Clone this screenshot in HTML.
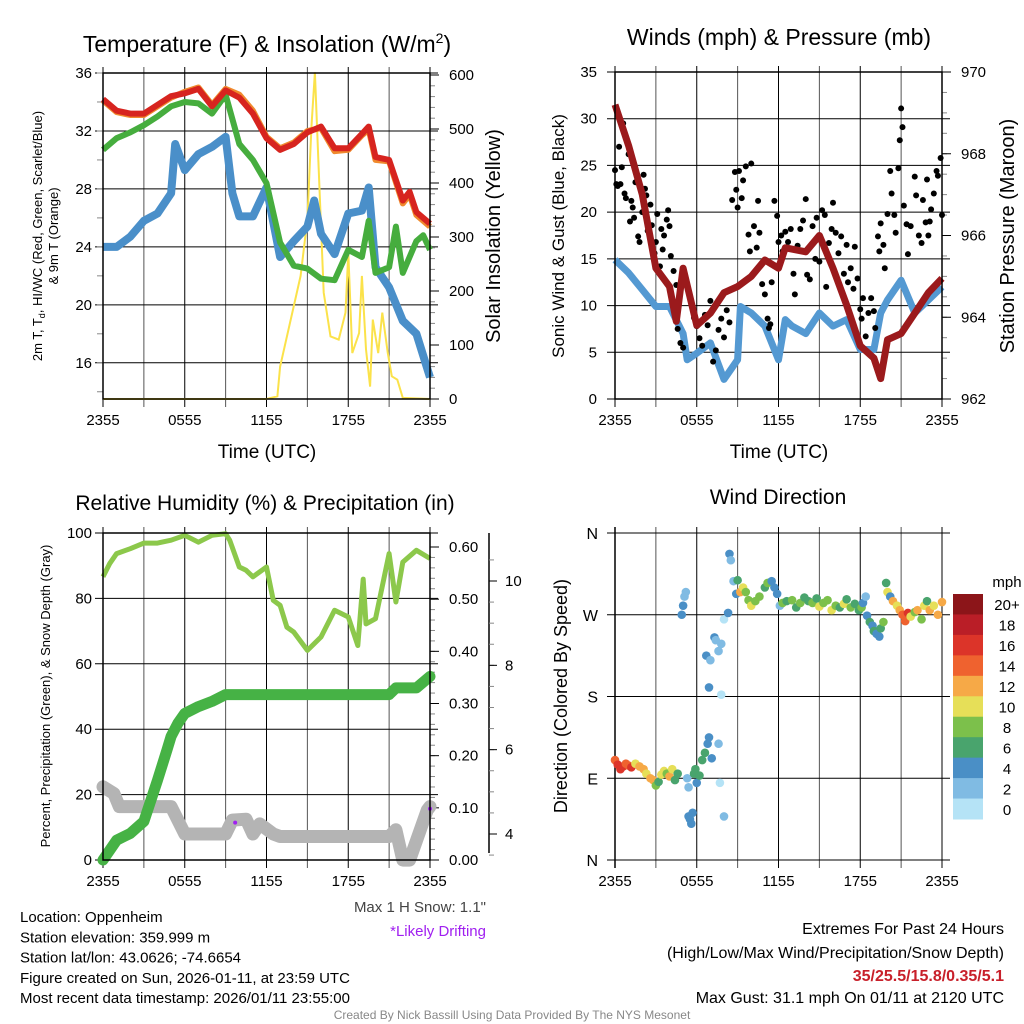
<!DOCTYPE html>
<html><head><meta charset="utf-8">
<style>
html,body{margin:0;padding:0;background:#fff;}
svg{display:block;font-family:"Liberation Sans",Arial,sans-serif;}
</style></head>
<body>
<svg id="chart" width="1024" height="1024" viewBox="0 0 1024 1024" xmlns="http://www.w3.org/2000/svg"></svg>
<script>
// ---------- DATA ----------
const timeTicks = ["2355","0555","1155","1755","2355"];
// Temperature panel
const tempHours = [0,1,2,3,4,5,6,7,8,9,10,11,12,13,14,15,16,17,18,19,19.5,20,21,22,22.5,23,24];
const temp2m   = [34.2,33.4,33.2,33.2,33.8,34.4,34.6,34.9,33.7,34.8,34.3,33.2,31.5,30.7,31.1,31.9,32.3,30.8,30.8,31.8,32.3,30.2,30.0,27.2,27.8,26.4,25.6];
const temp9m   = [34.1,33.3,33.1,33.1,33.7,34.3,34.7,35.0,33.8,34.9,34.5,33.4,31.6,30.8,31.2,32.0,32.2,30.6,30.7,31.7,32.1,30.0,29.9,27.0,27.6,26.2,25.4];
const dewHours = [0,1,2,3,4,5,6,7,8,9,10,11,12,13,14,15,16,17,18,19,19.5,20,21,21.5,22,23,23.5,24];
const dewpoint = [30.7,31.5,31.9,32.4,33.0,33.7,34.0,33.9,33.2,34.5,31.1,30.0,28.4,24.3,22.7,22.5,21.8,21.7,23.8,23.3,25.8,22.2,22.6,25.4,22.2,24.4,24.8,23.8];
const wcHours = [0,1,2,3,4,5,5.3,6,7,8,9,9.5,10,11,12,13,14,15,15.5,16,17,18,19,19.5,20,21,22,23,24];
const windChill = [24.0,24.0,24.7,25.8,26.3,27.7,31.1,29.3,30.4,30.9,31.6,27.7,26.1,26.1,28.1,23.3,24.4,25.4,27.2,24.9,23.5,26.3,26.5,28.1,22.6,21.2,18.9,18.0,15.0];
const solarHours = [0,12,12.8,13,14.5,15,15.3,15.55,15.8,16.2,16.7,17.3,17.8,18,18.3,18.8,19,19.3,19.6,19.8,20.2,20.5,20.9,21.2,21.6,22,24];
const solar = [0,0,5,60,228,333,506,605,444,197,116,110,160,271,85,122,228,92,23,147,85,160,85,42,36,2,0];
const tempTicks = [16,20,24,28,32,36];
const solarTicks = [0,100,200,300,400,500,600];
// Wind panel
const windHours = [0,1,2,3,4,5,5.3,6,7,8,9,9.2,10,11,12,12.5,13,14,15,16,17,18,19,19.5,20,21,22,23,24];
const windSpeed = [14.9,13.5,11.7,9.9,9.9,7.0,4.2,4.9,6.0,2.1,4.2,9.9,9.2,7.8,4.2,8.5,7.8,7.0,9.2,7.8,8.5,5.3,5.3,9.2,10.6,12.7,9.2,10.6,12.0];
const presHours = [0,1,2,3,4,4.5,5,6,7,8,9,10,11,12,12.5,14,15,16,17,18,19,19.5,20,21,22,23,24];
const pressure = [969.2,968.2,967.0,965.2,964.75,963.9,965.2,963.8,964.1,964.6,964.75,965.0,965.4,965.2,965.7,965.6,966.0,965.2,964.3,963.3,963.0,962.5,963.45,963.6,964.1,964.6,964.95];
const gustHours = [0.0,0.1,0.2,0.3,0.4,0.6,0.5,0.7,0.8,0.9,1.0,1.1,1.2,1.3,1.4,1.5,1.7,1.8,2.0,2.1,2.2,2.3,2.4,2.6,2.7,2.9,3.0,3.1,3.3,3.4,3.5,3.6,3.8,3.9,4.0,4.1,4.3,4.5,4.6,4.8,5.0,5.2,5.4,5.6,5.8,6.0,6.2,6.4,6.6,6.8,7.0,7.2,7.4,7.6,7.8,8.0,8.2,8.4,8.6,8.8,8.9,9.0,9.1,9.3,9.4,9.6,9.8,9.9,10.0,10.2,10.4,10.5,10.6,10.8,11.0,11.2,11.3,11.4,11.5,11.7,11.9,12.0,12.2,12.3,12.5,12.7,12.9,13.1,13.2,13.4,13.6,13.8,14.0,14.1,14.3,14.5,14.7,14.8,15.0,15.2,15.4,15.5,15.7,15.9,16.0,16.2,16.4,16.6,16.8,17.0,17.1,17.3,17.5,17.6,17.8,18.0,18.1,18.2,18.4,18.6,18.8,19.0,19.1,19.3,19.4,19.5,19.7,19.8,20.0,20.2,20.3,20.5,20.6,20.8,20.9,21.0,21.1,21.2,21.4,21.5,21.7,22.0,22.1,22.3,22.5,22.6,22.8,22.9,23.0,23.1,23.2,23.4,23.6,23.7,23.9,24.0];
const gusts = [24.5,23,22.8,27,23,29.5,24.8,22,21.5,27.5,26.2,19,21.2,20.5,19.4,23.2,17.4,16.8,20,24,22.5,21.8,18,20.8,18.6,15.6,16.8,19.8,14.2,18.2,16,17.5,19.2,20.2,18.5,15.3,13.7,12.2,7.5,6,5.5,12.6,11.5,10.2,8.7,7.8,6.5,5.7,9,7.9,10.5,4,5.2,7.4,8.6,6.6,9.5,8.2,21.3,24.3,22.4,20.5,24.4,21.5,23.4,24.9,17.6,15.8,25.2,18.5,16.2,21.2,17.8,12.3,11.2,8.6,7.6,8,12.5,21.2,19.6,16.8,17.5,15.8,17.9,16.8,18.2,13.4,11.2,16.4,18.2,19.1,21.4,13.3,12.8,18.5,15,19.4,14.7,20.2,19.7,12,16.7,18.2,21,17.8,15.6,17.4,13.4,16.5,12.5,14,11.8,16.3,12.9,9.6,8.6,10.8,6.7,9.2,10.8,9.4,7.6,17.4,15.8,18.8,16.5,14,19.8,24.4,22,19.7,17.8,24.7,27.7,31.1,29.1,20.7,18.7,15.5,18.5,23.8,21.8,17.5,16.7,21.3,18.9,23.5,17.5,19,20.3,22,24.4,23.9,25.8,19.7];
const windTicks = [0,5,10,15,20,25,30,35];
const presTicks = [962,964,966,968,970];
// RH panel
const rhHours = [0,0.5,1,2,3,4,5,6,7,8,9,9.3,10,10.5,11,12,12.5,13,13.5,14,15,16,17,18,18.7,19.1,19.3,20,21,21.5,22,23,24];
const rh = [86.6,90.7,93.7,95.2,96.9,96.9,97.8,99.3,97.2,99.3,99.8,97.8,89.6,88.6,86.6,89.6,79.4,77.9,71.2,69.7,64.1,68.2,76.4,74.3,65.6,85.9,72.2,73.8,93.7,78.9,91.1,94.7,92.2];
const precipHours = [0,1,2,3,4,4.7,5,5.5,6,7,8,9,21,21.5,23,24];
const precip = [0,0.038,0.051,0.074,0.153,0.211,0.237,0.262,0.281,0.294,0.304,0.317,0.317,0.33,0.33,0.352];
const snowHours = [0,0.8,1.2,5,6,9,9.5,10.5,11,11.5,12.5,13,21,21.5,22,22.5,23.8,24];
const snowDepth = [5.12,4.96,4.65,4.65,4.0,4.0,4.33,4.35,4.0,4.24,4.0,3.94,3.94,4.1,3.38,3.38,4.57,4.65];
const driftHours = [9.7,24];
const driftDepth = [4.27,4.6];
const rhTicks = [0,20,40,60,80,100];
const precipTicks = [0,0.1,0.2,0.3,0.4,0.5,0.6];
const snowTicks = [4,6,8,10];
// Wind direction panel
const dirHours = [0.0,0.2,0.4,0.6,0.8,1.0,1.2,1.5,1.8,2.1,2.3,2.6,2.8,3.0,3.2,3.4,3.6,3.8,4.0,4.2,4.4,4.6,4.9,5.0,5.1,5.2,5.3,5.4,5.4,5.5,5.6,5.7,5.8,5.9,6.0,6.2,6.4,6.6,6.8,6.9,7.1,6.9,6.7,7.0,7.3,7.4,7.6,7.8,7.6,7.7,8.0,7.8,8.0,8.3,8.4,8.5,8.7,8.9,9.0,9.2,9.4,9.6,9.8,10.0,10.3,10.6,11.0,11.2,11.5,11.7,11.9,12.1,12.3,12.6,13.0,13.3,13.6,13.9,14.2,14.5,14.8,15.0,15.3,15.6,15.9,16.2,16.5,16.8,17.0,17.3,17.6,17.9,18.1,18.2,18.4,18.5,18.7,18.9,19.0,19.2,19.4,19.5,19.7,19.9,20.0,20.2,20.4,20.7,20.9,21.1,21.3,21.5,21.7,22.0,22.2,22.5,22.7,22.9,23.1,23.4,23.7,24.0];
const dirDeg = [110,105,100,103,106,104,102,106,103,100,95,90,88,82,86,94,98,95,92,100,88,95,270,280,290,295,90,80,48,45,40,52,95,100,85,93,110,118,128,135,112,190,225,220,245,242,230,238,128,85,48,182,265,272,337,330,307,293,308,295,300,295,286,280,285,290,300,305,307,300,293,280,283,285,286,278,283,289,285,283,288,279,283,286,275,280,278,282,287,278,282,275,278,283,290,269,262,258,252,249,246,255,262,305,295,290,285,280,275,270,263,272,268,273,275,265,280,285,275,280,270,284];
const dirSpeed = [15,16,17,16,14,15,16,11,13,12,10,13,12,8,7,10,11,8,13,10,7,7,4,4,3,2,2,2,4,4,4,4,6,6,5,6,6,6,4,4,4,4,4,3,4,3,2,3,2,1,2,1,1,4,4,2,2,4,6,12,10,9,8,10,8,9,6,8,4,4,4,3,8,7,8,6,8,7,6,8,7,10,8,8,10,8,7,10,6,8,6,6,8,4,2,4,6,4,6,4,4,6,8,6,10,4,12,10,12,14,15,16,10,8,12,8,10,7,12,10,12,12];
const dirTicks = ["N","W","S","E","N"];
const speedBins = ["0","2","4","6","8","10","12","14","16","18","20+"];
const binColors = ["#b5e3f6","#80bbe3","#4a8fc6","#49a46d","#7cc04b","#e6df58","#f6a947","#ef622f","#dc3429","#ba1e27","#8c1519"];

// ---------- HELPERS ----------
const NS="http://www.w3.org/2000/svg";
const svg=document.getElementById('chart');
function mk(tag,attrs,parent){const e=document.createElementNS(NS,tag);for(const k in attrs)e.setAttribute(k,attrs[k]);(parent||svg).appendChild(e);return e;}
function txt(x,y,s,size,opts){opts=opts||{};const e=mk('text',{x:x,y:y,'font-size':size,'text-anchor':opts.anchor||'middle',fill:opts.fill||'#000'});if(opts.weight)e.setAttribute('font-weight',opts.weight);if(opts.rot)e.setAttribute('transform','rotate(-90 '+x+' '+y+')');e.textContent=s;return e;}
function lin(d0,d1,r0,r1){return v=>r0+(v-d0)/(d1-d0)*(r1-r0);}
function pathOf(xs,ys,fx,fy){return xs.map((h,i)=>(i?'L':'M')+fx(h).toFixed(1)+' '+fy(ys[i]).toFixed(1)).join(' ');}

function frame(px,py0,py1,name){
  const x0=px,x1=px+327;
  const fx=lin(0,24,x0,x1);
  for(let h=0;h<=24;h+=3){
    const gl=mk('line',{x1:fx(h),x2:fx(h),y1:py0-6,y2:py1+8,stroke:(h%6==0?'#000':'#555'),'stroke-width':1});
    
    
  }
  timeTicks.forEach((t,i)=>{const e=txt(fx(i*6),py1+26,t,15);
    
    });
  return fx;
}
function hgrid(fy,ticks,x0,x1,name,labelFn,lx){
  ticks.forEach(v=>{const l=mk('line',{x1:x0-8,x2:x1+8,y1:fy(v),y2:fy(v),stroke:'#000','stroke-width':1});
    
    
    const t=txt(lx,fy(v)+5,labelFn(v),15,{anchor:'end'});
    
    });
}
function border(x0,y0,x1,y1,name){const r=mk('rect',{x:x0,y:y0,width:x1-x0,height:y1-y0,fill:'none',stroke:'#000','stroke-width':1.5});
  
  }
function rightTicks(fy,ticks,x,name,fmt,lx,minor){
  minor.forEach(v=>{const m=mk('line',{x1:x,x2:x+5,y1:fy(v),y2:fy(v),stroke:'#888','stroke-width':1});
    
    });
  ticks.forEach(v=>{const l=mk('line',{x1:x,x2:x+9,y1:fy(v),y2:fy(v),stroke:'#000','stroke-width':1});
    
    
    const t=txt(lx,fy(v)+5,fmt(v),15,{anchor:'start'});
    
    });
}

// ---------- PANEL 1: Temperature ----------
(function(){
  const fx=frame(103,73,399,'temp');
  const fy=lin(13.5,36,399,73);
  const fs=lin(0,600,399,75);
  hgrid(fy,tempTicks,103,430,'temp',v=>String(v),92);
  const minors=[];for(let v=14;v<=36;v+=2)minors.push(v);
  minors.forEach(v=>{const m=mk('line',{x1:97,x2:103,y1:fy(v),y2:fy(v),stroke:'#888'});
    
    });
  const sm=[];for(let v=0;v<=600;v+=20)sm.push(v);
  rightTicks(fs,solarTicks,430,'solar',v=>String(v),449,sm);
  const s=mk('path',{d:pathOf(solarHours,solar,fx,fs),fill:'none',stroke:'#fbe24a','stroke-width':2});
  
  
  const wc=mk('path',{d:pathOf(wcHours,windChill,fx,fy),fill:'none',stroke:'#4a8fc9','stroke-width':8,'stroke-linejoin':'round'});
  
  
  const dp=mk('path',{d:pathOf(dewHours,dewpoint,fx,fy),fill:'none',stroke:'#46ad3e','stroke-width':6,'stroke-linejoin':'round'});
  
  
  const o=mk('path',{d:pathOf(tempHours,temp9m,fx,fy),fill:'none',stroke:'#f08a2e','stroke-width':6,'stroke-linejoin':'round'});
  
  
  const r=mk('path',{d:pathOf(tempHours,temp2m,fx,fy),fill:'none',stroke:'#d7241f','stroke-width':6,'stroke-linejoin':'round'});
  
  
  border(103,73,430,399,'temp');
  const t=mk('text',{x:267,y:52,'font-size':23,'text-anchor':'middle'});
  t.innerHTML='Temperature (F) &amp; Insolation (W/m<tspan dy="-9" font-size="14">2</tspan><tspan dy="9">)</tspan>';
  
  
  const xt=txt(267,458,'Time (UTC)',19);
  
  
  const y1=mk('text',{x:42,y:236,'font-size':13,'text-anchor':'middle',transform:'rotate(-90 42 236)'});
  y1.innerHTML='2m T, T<tspan font-size="9" dy="3">d</tspan><tspan dy="-3">, HI/WC (Red, Green, Scarlet/Blue)</tspan>';
  
  
  const y2=txt(58,236,'& 9m T (Orange)',13,{rot:true});
  
  
  const y3=txt(500,236,'Solar Insolation (Yellow)',20,{rot:true});
  
  
})();

// ---------- PANEL 2: Winds ----------
(function(){
  const fx=frame(615,72,399,'wind');
  const fy=lin(0,35,399,72);
  const fp=lin(962,970,399,72);
  hgrid(fy,windTicks,615,942,'wind',v=>String(v),597);
  const pm=[];for(let v=962;v<=970;v+=0.5)pm.push(v);
  rightTicks(fp,presTicks,942,'pressure',v=>String(v),961,pm);
  const w=mk('path',{d:pathOf(windHours,windSpeed,fx,fy),fill:'none',stroke:'#5499d2','stroke-width':7,'stroke-linejoin':'round'});
  
  
  gustHours.forEach((h,i)=>{const c=mk('circle',{cx:fx(h),cy:fy(gusts[i]),r:3,fill:'#000'});
    
    });
  const p=mk('path',{d:pathOf(presHours,pressure,fx,fp),fill:'none',stroke:'#9b1a1c','stroke-width':7,'stroke-linejoin':'round'});
  
  
  border(615,72,942,399,'wind');
  const t=txt(779,45,'Winds (mph) & Pressure (mb)',23);
  
  
  const xt=txt(779,458,'Time (UTC)',19);
  
  
  const y1=txt(564,236,'Sonic Wind & Gust (Blue, Black)',17,{rot:true});
  
  
  const y2=txt(1014,236,'Station Pressure (Maroon)',20,{rot:true});
  
  
})();

// ---------- PANEL 3: RH ----------
(function(){
  const fx=frame(103,533,860,'rh');
  const fy=lin(0,100,860,533);
  const fpr=lin(0,0.6,860,547);
  const fsn=lin(4,10,834,581);
  hgrid(fy,rhTicks,103,430,'rh',v=>String(v),92);
  const pm=[];for(let v=0;v<=0.62;v+=0.02)pm.push(v);
  rightTicks(fpr,precipTicks,430,'precip',v=>v.toFixed(2),449,pm);
  const ax=mk('line',{x1:489,x2:489,y1:533,y2:853,stroke:'#000','stroke-width':1.5});
  
  
  const sm=[];for(let v=3.5;v<=10.5;v+=0.5)sm.push(v);
  sm.forEach(v=>{const m=mk('line',{x1:489,x2:494,y1:fsn(v),y2:fsn(v),stroke:'#888'});
    
    });
  snowTicks.forEach(v=>{const l=mk('line',{x1:489,x2:497,y1:fsn(v),y2:fsn(v),stroke:'#000'});
    
    
    const t=txt(505,fsn(v)+5,String(v),15,{anchor:'start'});
    
    });
  const sn=mk('path',{d:pathOf(snowHours,snowDepth,fx,fsn),fill:'none',stroke:'#b4b4b4','stroke-width':13,'stroke-linejoin':'round','stroke-linecap':'round'});
  
  
  const pr=mk('path',{d:pathOf(precipHours,precip,fx,fpr),fill:'none',stroke:'#46b245','stroke-width':11,'stroke-linejoin':'round','stroke-linecap':'round'});
  
  
  const r=mk('path',{d:pathOf(rhHours,rh,fx,fy),fill:'none',stroke:'#8cc84b','stroke-width':5,'stroke-linejoin':'round'});
  
  
  driftHours.forEach((h,i)=>{const c=mk('circle',{cx:fx(h),cy:fsn(driftDepth[i]),r:2,fill:'#a020f0'});
    
    });
  border(103,533,430,860,'rh');
  const t=txt(265,510,'Relative Humidity (%) & Precipitation (in)',21);
  
  
  const y1=txt(50,696,'Percent, Precipitation (Green), & Snow Depth (Gray)',13,{rot:true});
  
  
})();

// ---------- PANEL 4: Wind Direction ----------
(function(){
  const fx=frame(615,533,860,'dir');
  const fy=lin(360,0,533,860);
  const vals=[360,270,180,90,0];
  vals.forEach((v,i)=>{const l=mk('line',{x1:607,x2:950,y1:fy(v),y2:fy(v),stroke:'#000','stroke-width':1});
    
    
    const t=txt(598,fy(v)+6,dirTicks[i],16,{anchor:'end'});
    
    });
  const l1=mk('line',{x1:615,x2:615,y1:527,y2:868,stroke:'#000','stroke-width':1.5});
  
  
  dirHours.forEach((h,i)=>{const b=Math.min(10,Math.floor(dirSpeed[i]/2));
    const c=mk('circle',{cx:fx(h),cy:fy(dirDeg[i]),r:4.3,fill:binColors[b]});
    
    });
  const t=txt(778,504,'Wind Direction',21);
  
  
  const y1=txt(567,696,'Direction (Colored By Speed)',18,{rot:true});
  
  
  const cbTop=594,cbH=225/11;
  speedBins.forEach((lab,i)=>{const k=10-i;
    const r=mk('rect',{x:953,y:cbTop+i*cbH,width:30,height:cbH+0.5,fill:binColors[k]});
    
    
    const tt=txt(1007,cbTop+i*cbH+cbH/2+6,speedBins[k],15);
    
    });
  const mu=txt(1007,587,'mph',15);
  
  
})();

// ---------- TEXT BLOCKS ----------
const info=["Location: Oppenheim","Station elevation: 359.999 m","Station lat/lon: 43.0626; -74.6654","Figure created on Sun, 2026-01-11, at 23:59 UTC","Most recent data timestamp: 2026/01/11 23:55:00"];
info.forEach((s,i)=>{const t=txt(20,922+i*20.3,s,15,{anchor:'start'});
  
  });
const ms=txt(486,912,'Max 1 H Snow: 1.1"',15,{anchor:'end',fill:'#444'});


const ld=txt(486,936,'*Likely Drifting',15,{anchor:'end',fill:'#a020f0'});


const e1=txt(1004,934,'Extremes For Past 24 Hours',16,{anchor:'end'});


const e2=txt(1004,958,'(High/Low/Max Wind/Precipitation/Snow Depth)',16,{anchor:'end'});


const e3=txt(1004,981,'35/25.5/15.8/0.35/5.1',16,{anchor:'end',fill:'#c8202a',weight:'bold'});


const e4=txt(1004,1003,'Max Gust: 31.1 mph On 01/11 at 2120 UTC',16,{anchor:'end'});


const cr=txt(512,1019,'Created By Nick Bassill Using Data Provided By The NYS Mesonet',12,{fill:'#888'});


</script>
</body></html>
